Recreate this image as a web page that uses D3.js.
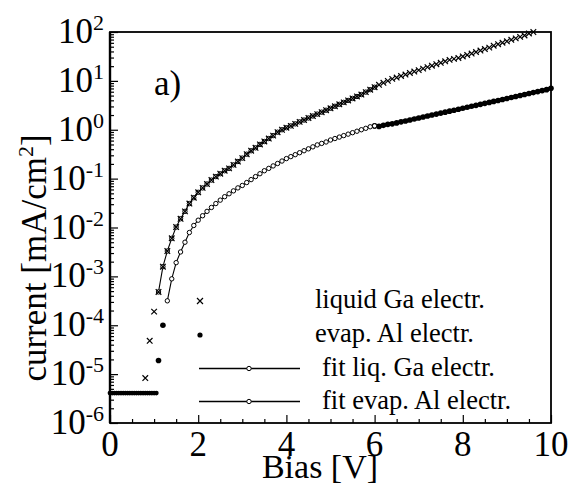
<!DOCTYPE html>
<html>
<head>
<meta charset="utf-8">
<script src="https://cdn.jsdelivr.net/npm/d3@7"></script>
<style>
body { margin: 0; background: #fff; }
svg { display: block; font-family: "Liberation Serif", "Times New Roman", serif; }
</style>
</head>
<body>
<svg id="chart" width="571" height="489"></svg>
<script>
// leakage plateau, both electrodes  (bias V, current mA/cm2)
const flatBias = [0, 0.05, 0.1, 0.15, 0.2, 0.25, 0.3, 0.35, 0.4, 0.45, 0.5, 0.55,
    0.6, 0.65, 0.7, 0.75, 0.8, 0.85, 0.9, 0.95, 1.0, 1.05]
const flatCurrent = [4.1e-6, 4.1e-6, 4.1e-6, 4.1e-6, 4.1e-6, 4.1e-6, 4.1e-6, 4.1e-6,
    4.1e-6, 4.1e-6, 4.1e-6, 4.1e-6, 4.1e-6, 4.1e-6, 4.1e-6, 4.1e-6, 4.1e-6, 4.1e-6,
    4.1e-6, 4.1e-6, 4.1e-6, 4.1e-6]

// onset points
const gaOnsetBias = [0.8, 0.9, 1.0]
const gaOnsetCurrent = [8.3e-6, 4.8e-5, 1.9e-4]
const alOnsetBias = [1.1, 1.2]
const alOnsetCurrent = [1.9e-5, 1.0e-4]

// liquid Ga electrode
const gaBias = [1.1, 1.2, 1.3, 1.4, 1.5, 1.6, 1.7, 1.8, 1.9, 2.0,
    2.1, 2.2, 2.3, 2.4, 2.5, 2.6, 2.7, 2.8, 2.9, 3.0,
    3.1, 3.2, 3.3, 3.4, 3.5, 3.6, 3.7, 3.8, 3.9, 4.0,
    4.1, 4.2, 4.3, 4.4, 4.5, 4.6, 4.7, 4.8, 4.9, 5.0,
    5.1, 5.2, 5.3, 5.4, 5.5, 5.6, 5.7, 5.8, 5.9, 6.0,
    6.1, 6.2, 6.3, 6.4, 6.5, 6.6, 6.7, 6.8, 6.9, 7.0,
    7.1, 7.2, 7.3, 7.4, 7.5, 7.6, 7.7, 7.8, 7.9, 8.0,
    8.1, 8.2, 8.3, 8.4, 8.5, 8.6, 8.7, 8.8, 8.9, 9.0,
    9.1, 9.2, 9.3, 9.4, 9.5, 9.6]
const gaCurrent = [4.8e-4, 1.58e-3, 3.3e-3, 6.0e-3, 1.02e-2, 1.51e-2, 2.14e-2, 3.09e-2, 4.07e-2, 5.25e-2,
    6.46e-2, 7.76e-2, 9.33e-2, 0.110, 0.126, 0.145, 0.162, 0.191, 0.224, 0.263,
    0.316, 0.372, 0.427, 0.501, 0.575, 0.661, 0.759, 0.891, 1.00, 1.10,
    1.20, 1.32, 1.45, 1.58, 1.74, 1.91, 2.09, 2.29, 2.51, 2.75,
    3.02, 3.31, 3.63, 3.98, 4.37, 4.79, 5.25, 5.89, 6.61, 7.41,
    8.32, 9.12, 10.0, 11.0, 11.7, 12.6, 13.5, 14.5, 15.5, 16.6,
    17.8, 19.1, 20.4, 21.9, 23.4, 25.1, 26.9, 28.2, 29.5, 31.6,
    33.9, 36.3, 38.9, 41.7, 44.7, 47.9, 52.5, 56.2, 60.3, 64.6,
    69.2, 74.1, 79.4, 85.1, 93.3, 100]

// evaporated Al electrode
const alBias = [1.3, 1.4, 1.5, 1.6, 1.7, 1.8, 1.9, 2.0,
    2.1, 2.2, 2.3, 2.4, 2.5, 2.6, 2.7, 2.8, 2.9, 3.0,
    3.1, 3.2, 3.3, 3.4, 3.5, 3.6, 3.7, 3.8, 3.9, 4.0,
    4.1, 4.2, 4.3, 4.4, 4.5, 4.6, 4.7, 4.8, 4.9, 5.0,
    5.1, 5.2, 5.3, 5.4, 5.5, 5.6, 5.7, 5.8, 5.9, 6.0,
    6.1, 6.2, 6.3, 6.4, 6.5, 6.6, 6.7, 6.8, 6.9, 7.0,
    7.1, 7.2, 7.3, 7.4, 7.5, 7.6, 7.7, 7.8, 7.9, 8.0,
    8.1, 8.2, 8.3, 8.4, 8.5, 8.6, 8.7, 8.8, 8.9, 9.0,
    9.1, 9.2, 9.3, 9.4, 9.5, 9.6, 9.7, 9.8, 9.9, 10.0]
const alCurrent = [3.16e-4, 8.9e-4, 1.91e-3, 3.16e-3, 5.0e-3, 7.9e-3, 1.10e-2, 1.41e-2,
    1.74e-2, 2.14e-2, 2.57e-2, 3.09e-2, 3.63e-2, 4.27e-2, 4.90e-2, 5.62e-2, 6.46e-2, 7.24e-2,
    8.32e-2, 9.55e-2, 0.110, 0.126, 0.145, 0.162, 0.182, 0.204, 0.229, 0.257,
    0.282, 0.309, 0.339, 0.372, 0.407, 0.447, 0.490, 0.525, 0.562, 0.617,
    0.661, 0.708, 0.759, 0.813, 0.871, 0.933, 1.00, 1.07, 1.15, 1.20,
    1.17, 1.23, 1.29, 1.32, 1.38, 1.45, 1.51, 1.58, 1.66, 1.74,
    1.82, 1.91, 2.00, 2.09, 2.19, 2.29, 2.40, 2.51, 2.63, 2.75,
    2.88, 3.02, 3.16, 3.31, 3.47, 3.63, 3.80, 3.98, 4.17, 4.37,
    4.57, 4.79, 5.01, 5.25, 5.50, 5.75, 6.03, 6.31, 6.61, 7.08]

const fitEnd = 6.0   // fits drawn up to here
const xTicks = [0, 2, 4, 6, 8, 10]
const yDecades = [1e-6, 1e-5, 1e-4, 1e-3, 1e-2, 1e-1, 1e0, 1e1, 1e2]
const yExponents = ['-6', '-5', '-4', '-3', '-2', '-1', '0', '1', '2']
const legendLabels = ['liquid Ga electr.', 'evap. Al electr.', 'fit liq. Ga electr.', 'fit evap. Al electr.']

var margin = {top: 32, right: 20, bottom: 66, left: 110},
    width = 571 - margin.left - margin.right,
    height = 489 - margin.top - margin.bottom

const svg = d3.select('#chart')
const g = svg.append('g')
    .attr('transform', 'translate(' + margin.left + ',' + margin.top + ')')

var x = d3.scaleLinear().domain([0, 10]).range([0, width])
var y = d3.scaleLog().domain([1e-6, 1e2]).range([height, 0])

const zip = (xs, ys) => xs.map((v, i) => ({x: v, y: ys[i]}))
const flat = zip(flatBias, flatCurrent)
const ga = zip(gaBias, gaCurrent)
const al = zip(alBias, alCurrent)
const gaFit = ga.filter(d => d.x <= fitEnd + 1e-9)
const alFit = al.filter(d => d.x <= fitEnd + 1e-9)
const alTail = al.filter(d => d.x >= fitEnd - 1e-9)
const alMeas = zip(alOnsetBias, alOnsetCurrent).concat(alTail)
const gaMeas = zip(gaOnsetBias, gaOnsetCurrent).concat(ga)

// minor ticks
const yMinor = []
yDecades.slice(0, -1).forEach(d => { for (let k = 2; k <= 9; k++) yMinor.push(k * d) })
const xMinor = d3.range(0, 10.01, 0.5).filter(v => v % 2 !== 0)

function styleAxis(sel) {
    sel.select('.domain').remove()
    sel.selectAll('line').attr('stroke', '#000').attr('stroke-width', 1.2)
    sel.selectAll('text').remove()
}

g.append('g').call(d3.axisLeft(y).tickValues(yMinor).tickSize(-4).tickFormat('')).call(styleAxis)
g.append('g').call(d3.axisLeft(y).tickValues(yDecades).tickSize(-8).tickFormat('')).call(styleAxis)
g.append('g').attr('transform', 'translate(0,' + height + ')')
    .call(d3.axisBottom(x).tickValues(xMinor).tickSize(-4).tickFormat('')).call(styleAxis)
g.append('g').attr('transform', 'translate(0,' + height + ')')
    .call(d3.axisBottom(x).tickValues(xTicks).tickSize(-8).tickFormat('')).call(styleAxis)

// frame
g.append('rect')
    .attr('width', width).attr('height', height)
    .attr('fill', 'none').attr('stroke', '#000').attr('stroke-width', 1.8)
g.append('line').attr('x1', 0).attr('x2', 0).attr('y1', 0).attr('y2', height)
    .attr('stroke', '#000').attr('stroke-width', 2.4)

// y labels 10^n
const yl = g.selectAll('.ylab').data(yDecades).enter().append('text')
    .attr('class', 'ylab')
    .attr('x', -6)
    .attr('y', d => y(d) + 11)
    .attr('text-anchor', 'end')
    .attr('font-size', 35)
yl.append('tspan').text('10')
yl.append('tspan').attr('dy', -13).attr('font-size', 22).text((d, i) => yExponents[i])

// x labels
g.selectAll('.xlab').data(xTicks).enter().append('text')
    .attr('x', d => x(d))
    .attr('y', height + 33)
    .attr('text-anchor', 'middle')
    .attr('font-size', 35)
    .text(d => d)

// axis titles
svg.append('text')
    .attr('x', 320).attr('y', 478)
    .attr('text-anchor', 'middle')
    .attr('font-size', 34)
    .text('Bias [V]')

const yt = svg.append('text')
    .attr('transform', 'translate(46,258) rotate(-90)')
    .attr('text-anchor', 'middle')
    .attr('font-size', 35)
yt.append('tspan').text('current [mA/cm')
yt.append('tspan').attr('dy', -13).attr('font-size', 22).text('2')
yt.append('tspan').attr('dy', 13).text(']')

svg.append('text')
    .attr('x', 154).attr('y', 95)
    .attr('font-size', 35)
    .text('a)')

// marks
const crossPath = s => 'M' + (-s) + ',' + (-s) + 'L' + s + ',' + s + 'M' + (-s) + ',' + s + 'L' + s + ',' + (-s)
const line = d3.line().x(d => x(d.x)).y(d => y(d.y))

g.append('path').datum(gaFit).attr('d', line)
    .attr('fill', 'none').attr('stroke', '#000').attr('stroke-width', 1.1)
g.append('path').datum(alFit).attr('d', line)
    .attr('fill', 'none').attr('stroke', '#000').attr('stroke-width', 1.1)
// heavy measured Al band above 6 V
g.append('path').datum(alTail).attr('d', line)
    .attr('fill', 'none').attr('stroke', '#000').attr('stroke-width', 3.5)

g.selectAll('.flat').data(flat).enter().append('circle')
    .attr('cx', d => x(d.x)).attr('cy', d => y(d.y)).attr('r', 2.4).attr('fill', '#000')

g.selectAll('.alm').data(alMeas).enter().append('circle')
    .attr('cx', d => x(d.x)).attr('cy', d => y(d.y)).attr('r', 2.8).attr('fill', '#000')

g.selectAll('.gaf').data(gaFit).enter().append('circle')
    .attr('cx', d => x(d.x)).attr('cy', d => y(d.y)).attr('r', 2.2)
    .attr('fill', '#fff').attr('stroke', '#000').attr('stroke-width', 1)
g.selectAll('.alf').data(alFit).enter().append('circle')
    .attr('cx', d => x(d.x)).attr('cy', d => y(d.y)).attr('r', 2.2)
    .attr('fill', '#fff').attr('stroke', '#000').attr('stroke-width', 1)

g.selectAll('.gam').data(gaMeas).enter().append('path')
    .attr('transform', d => 'translate(' + x(d.x) + ',' + y(d.y) + ')')
    .attr('d', crossPath(2.8))
    .attr('stroke', '#000').attr('stroke-width', 1.2).attr('fill', 'none')

// legend
const leg = svg.append('g')
const rowY = [301, 335, 368.5, 401.5]
leg.append('path').attr('transform', 'translate(200,' + rowY[0] + ')')
    .attr('d', crossPath(3)).attr('stroke', '#000').attr('stroke-width', 1.2)
leg.append('circle').attr('cx', 200).attr('cy', rowY[1]).attr('r', 2.6).attr('fill', '#000')
;[2, 3].forEach(i => {
    leg.append('line').attr('x1', 199).attr('x2', 300).attr('y1', rowY[i]).attr('y2', rowY[i])
        .attr('stroke', '#000').attr('stroke-width', 1.3)
    leg.append('circle').attr('cx', 249).attr('cy', rowY[i]).attr('r', 2.2)
        .attr('fill', '#fff').attr('stroke', '#000')
})
const legX = [315, 315, 322, 322]
leg.selectAll('text').data(legendLabels).enter().append('text')
    .attr('x', (d, i) => legX[i])
    .attr('y', (d, i) => Math.round(rowY[i]) + 7)
    .attr('font-size', 26.5)
    .text(d => d)
</script>
</body>
</html>
